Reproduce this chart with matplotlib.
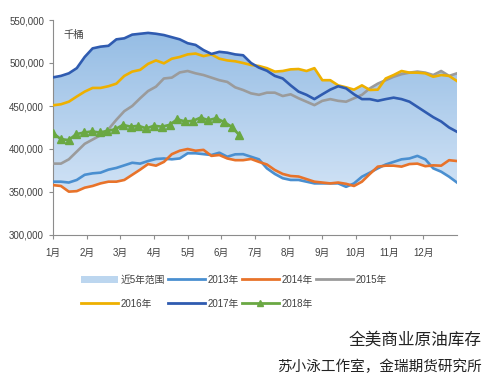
import numpy as np
import matplotlib.pyplot as plt
from matplotlib.patches import Patch
from matplotlib.lines import Line2D

plt.rcParams['font.family'] = ['Liberation Sans', 'Noto Sans CJK SC']

# weekly US commercial crude stocks, thousand barrels
months = ['1月', '2月', '3月', '4月', '5月', '6月', '7月', '8月', '9月', '10月', '11月', '12月']

y2013 = [362, 362, 361, 364, 370, 371.7, 372.5, 376, 378, 381, 384, 383, 386, 388.4, 389, 388, 389,
         395, 395, 394, 393, 395.7, 391, 393.8, 394, 391, 388, 377.5, 371, 366, 364, 364, 362, 360,
         360, 360, 360, 356, 360, 367.8, 372.5, 377.5, 382, 385, 388, 389, 392, 388, 377.5, 373.6,
         367.8, 361]
y2014 = [358, 357, 350.4, 351, 355, 357, 360, 362, 362, 364, 370, 376, 382.5, 380.6, 385, 394, 398,
         400, 398, 399, 392, 393, 389, 387, 387, 388.4, 385, 382, 375.6, 371, 368.6, 368, 365, 362,
         361, 360, 361, 359.5, 357, 362, 371, 379.5, 380.6, 380.6, 379.5, 382.5, 383, 380, 381,
         380.6, 387, 386]
y2015 = [383, 383, 388, 397, 406, 411, 416, 423, 434, 444, 450, 459, 467.4, 472.5, 482, 483, 489,
         490.7, 488, 486, 483, 480, 478, 471.7, 468.6, 464.7, 463, 465.5, 465.5, 461.6, 463.6, 459,
         455, 451, 456, 458, 456, 455, 459, 463, 470.5, 476, 480, 484, 487, 488.8, 490, 488.8, 486,
         490.7, 485, 488]
y2016 = [450.8, 452, 455, 461, 466.7, 471, 471, 473, 476, 485, 490, 492, 499, 503, 499.6, 505, 507,
         510, 511, 508, 510, 505, 503, 502, 500, 497.7, 496.5, 494, 490, 490.7, 492.6, 493, 490.7,
         494, 480, 480, 474, 471.7, 469, 474, 468.6, 469, 482, 486, 490.7, 488.8, 488.8, 488, 484,
         486, 485, 479]
y2017 = [483.3, 485, 488, 494, 507, 517, 519, 520, 527.5, 528.7, 533, 534, 535, 534, 532.5, 530,
         527.5, 523, 521, 515, 510.5, 513, 512, 510, 509, 500, 494.6, 491, 485, 482, 474, 466.7, 463,
         458, 463.6, 469, 473, 470.5, 463.6, 458, 458, 456, 458, 459.7, 458, 455, 449, 443, 437, 432,
         425, 420]
y2018 = [418.5, 411.5, 410.4, 417.3, 419.2, 420.4, 419.2, 421, 423, 428, 426, 427, 424, 427, 426,
         428, 434.6, 432, 432.7, 436.5, 433.5, 435.8, 431.5, 425.8, 416]

years = {'2013年': y2013, '2014年': y2014, '2015年': y2015, '2016年': y2016, '2017年': y2017}
colors = {'2013年': '#4a8fd0', '2014年': '#e8732a', '2015年': '#9b9b9b',
          '2016年': '#eeb000', '2017年': '#2f5bb0'}

x = np.linspace(0, 52, len(y2013))
x18 = np.arange(len(y2018))
stack = np.array([years[k] for k in years]) * 1000
lo = stack.min(axis=0)
hi = stack.max(axis=0)

fig = plt.figure(figsize=(4.86, 3.77), dpi=100)
ax = fig.add_axes([53 / 486, 1 - 235 / 377, 404 / 486, 215 / 377])

# band with vertical gradient
band = ax.fill_between(x, lo, hi, color='none', lw=0)
grad = np.linspace(0, 1, 256).reshape(-1, 1)
top = np.array([148, 188, 228]) / 255
bot = np.array([208, 226, 245]) / 255
img = top + (bot - top) * grad[:, :, None]
im = ax.imshow(img, extent=[0, 52, 350000, 540000], aspect='auto', origin='upper', zorder=1)
im.set_clip_path(band.get_paths()[0], transform=ax.transData)

for k in years:
    ax.plot(x, np.array(years[k]) * 1000, color=colors[k], lw=1.9, zorder=3)
ax.plot(x18, np.array(y2018) * 1000, color='#6aa843', lw=1.9, marker='^', ms=5.5, zorder=4)

ax.set_xlim(0, 52)
ax.set_ylim(300000, 550000)
ax.set_yticks(np.arange(300000, 550001, 50000))
ax.yaxis.set_major_formatter(plt.FuncFormatter(lambda v, p: f'{int(v):,}'))
ax.set_xticks(np.arange(12) * 52 / 12)
ax.set_xticklabels(months)
for s in ['top', 'right']:
    ax.spines[s].set_visible(False)
for s in ['left', 'bottom']:
    ax.spines[s].set_color('#8c8c8c')
ax.tick_params(axis='both', colors='#8c8c8c', labelcolor='#404040', labelsize=7, length=3, width=0.8)
ax.tick_params(axis='x', pad=6)
ax.text(0.025, 0.955, '千桶', transform=ax.transAxes, fontsize=7.5, color='#404040', va='top')

handles = [Patch(facecolor='#bcd6ef', edgecolor='none', label='近5年范围')]
for k in years:
    handles.append(Line2D([], [], color=colors[k], lw=2, label=k))
handles.append(Line2D([], [], color='#6aa843', lw=2, marker='^', ms=4, label='2018年'))
order = [0, 4, 1, 5, 2, 6, 3]
fig.legend([handles[i] for i in order], [handles[i].get_label() for i in order],
           ncol=4, loc='upper left', bbox_to_anchor=(72 / 486, 1 - 266 / 377),
           frameon=False, fontsize=7, handlelength=3.8, handletextpad=0.3,
           columnspacing=0.3, labelspacing=1.45, labelcolor='#404040')

fig.text(482 / 486, 1 - 340 / 377, '全美商业原油库存', ha='right', va='center',
         fontsize=12, family=['Noto Sans CJK SC'], color='#222222')
fig.text(482 / 486, 1 - 367 / 377, '苏小泳工作室，金瑞期货研究所', ha='right', va='center',
         fontsize=10.5, family=['Noto Sans CJK SC'], color='#222222')

fig.savefig('out.png', dpi=100)
